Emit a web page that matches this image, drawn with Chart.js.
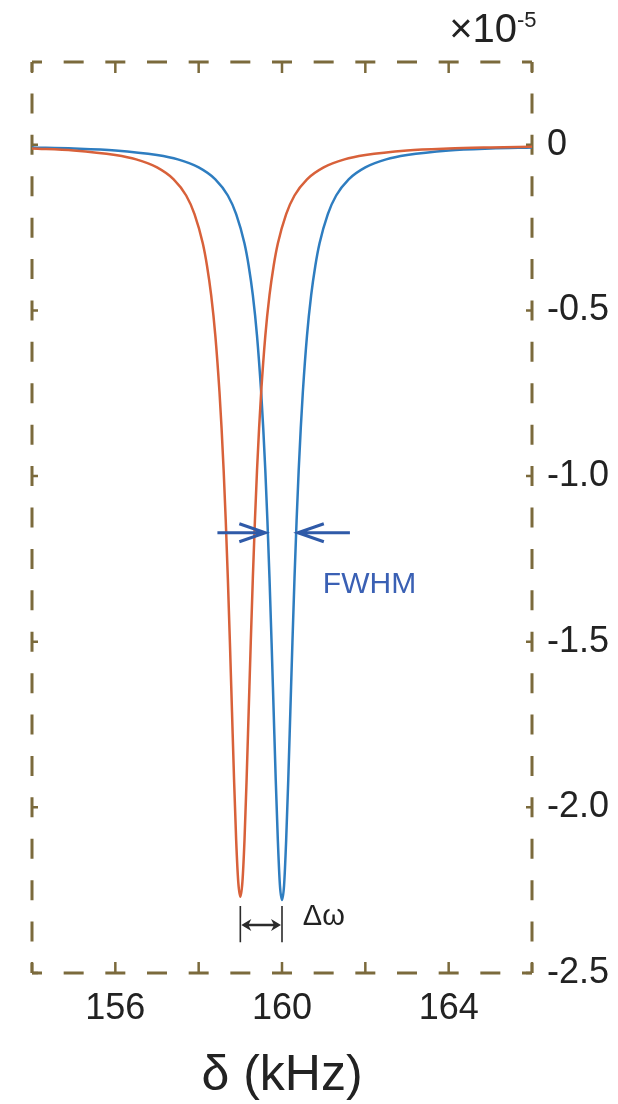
<!DOCTYPE html>
<html><head><meta charset="utf-8">
<script src="https://cdn.jsdelivr.net/npm/chart.js@4.4.1/dist/chart.umd.min.js"></script>
<style>html,body{margin:0;padding:0;background:#fff}canvas{display:block}</style>
</head><body>
<canvas id="c" width="618" height="1104"></canvas>
<script>
// ---- data ----
const redX = [154,155,156,156.5,157,157.4,157.7,157.9,158.1,158.2,158.3,158.4,158.5,158.55,158.6,158.65,158.7,158.75,158.8,158.85,158.9,158.95,159,159.05,159.1,159.15,159.2,159.25,159.3,159.35,159.4,159.45,159.5,159.6,159.7,159.8,159.9,160.1,160.3,160.6,161,161.5,162,163,164,165,166];
const redY = [-0.011,-0.017,-0.031,-0.044,-0.068,-0.104,-0.153,-0.209,-0.298,-0.365,-0.454,-0.576,-0.747,-0.856,-0.984,-1.135,-1.308,-1.503,-1.711,-1.918,-2.099,-2.225,-2.27,-2.225,-2.099,-1.918,-1.711,-1.503,-1.308,-1.135,-0.984,-0.856,-0.747,-0.576,-0.454,-0.365,-0.298,-0.209,-0.153,-0.104,-0.068,-0.044,-0.031,-0.017,-0.011,-0.008,-0.006];
const blueX = [154,155,156,157,157.5,158,158.4,158.7,158.9,159.1,159.2,159.3,159.4,159.5,159.55,159.6,159.65,159.7,159.75,159.8,159.85,159.9,159.95,160,160.05,160.1,160.15,160.2,160.25,160.3,160.35,160.4,160.45,160.5,160.6,160.7,160.8,160.9,161.1,161.3,161.6,162,162.5,163,164,165,166];
const blueY = [-0.008,-0.011,-0.017,-0.031,-0.044,-0.068,-0.104,-0.153,-0.209,-0.298,-0.365,-0.454,-0.576,-0.747,-0.856,-0.984,-1.135,-1.308,-1.503,-1.711,-1.918,-2.099,-2.235,-2.28,-2.235,-2.099,-1.918,-1.711,-1.503,-1.308,-1.135,-0.984,-0.856,-0.747,-0.576,-0.454,-0.365,-0.298,-0.209,-0.153,-0.104,-0.068,-0.044,-0.031,-0.017,-0.011,-0.008];
const xTicks = [154,156,158,160,162,164,166];
const xTickLabels = [156,160,164];
const yTicks = [0,-0.5,-1,-1.5,-2,-2.5];
const yTickLabels = ['0','-0.5','-1.0','-1.5','-2.0','-2.5'];
const xTitle = 'δ (kHz)';
const yExponent = ['×10', '-5'];
// annotation anchors in data units
const fwhmArrow = [-1.171, 158.45, 159.6, 160.38, 161.63]; // y, leftTail, leftTip, rightTip, rightTail
const fwhmLabel = ['FWHM', 160.98, -1.352];
const dOmega = [159.0, 160.0, -2.355, -2.298, -2.407]; // x1, x2, y, yTop, yBottom
const dOmegaLabel = ['Δω', 160.5, -2.355];

const FONT = "'Liberation Sans', Arial, Helvetica, sans-serif";
const FRAME = '#7b6a3c';

const framePlugin = {
  id: 'frame',
  beforeDatasetsDraw(chart) {
    const {ctx, chartArea: a, scales: {x, y}} = chart;
    ctx.save();
    ctx.strokeStyle = FRAME; ctx.lineWidth = 3; ctx.lineCap = 'butt';
    const px = Math.abs(x.getPixelForValue(155) - x.getPixelForValue(154));
    const py = Math.abs(y.getPixelForValue(0.125) - y.getPixelForValue(0));
    const dash = 20;
    function seg(x1, y1, x2, y2, per) {
      ctx.setLineDash([dash, per - dash]);
      ctx.lineDashOffset = dash / 2;
      ctx.beginPath(); ctx.moveTo(x1, y1); ctx.lineTo(x2, y2); ctx.stroke();
    }
    seg(a.left, a.top, a.right, a.top, px);
    seg(a.left, a.bottom, a.right, a.bottom, px);
    seg(a.left, a.bottom, a.left, a.top, py);
    seg(a.right, a.bottom, a.right, a.top, py);
    ctx.setLineDash([]);
    ctx.lineWidth = 2.5;
    ctx.beginPath();
    xTicks.forEach(v => {
      const p = x.getPixelForValue(v);
      ctx.moveTo(p, a.top); ctx.lineTo(p, a.top + 11);
      ctx.moveTo(p, a.bottom); ctx.lineTo(p, a.bottom - 11);
    });
    yTicks.forEach(v => {
      const p = y.getPixelForValue(v);
      ctx.moveTo(a.left, p); ctx.lineTo(a.left + 6, p);
      ctx.moveTo(a.right, p); ctx.lineTo(a.right - 6, p);
    });
    ctx.stroke();
    ctx.restore();
  }
};

function openArrow(ctx, x1, y1, x2, y2) {
  const dir = Math.sign(x2 - x1);
  ctx.beginPath();
  ctx.moveTo(x1, y1); ctx.lineTo(x2, y2);
  ctx.moveTo(x2 - dir * 26, y2 - 9); ctx.lineTo(x2, y2); ctx.lineTo(x2 - dir * 26, y2 + 9);
  ctx.stroke();
}

const annotPlugin = {
  id: 'annot',
  afterDatasetsDraw(chart) {
    const {ctx, chartArea: a, scales: {x, y}} = chart;
    ctx.save();
    ctx.strokeStyle = '#2f5aa8'; ctx.lineWidth = 3; ctx.lineJoin = 'miter'; ctx.lineCap = 'butt';
    const ay = y.getPixelForValue(fwhmArrow[0]);
    openArrow(ctx, x.getPixelForValue(fwhmArrow[1]), ay, x.getPixelForValue(fwhmArrow[2]), ay);
    openArrow(ctx, x.getPixelForValue(fwhmArrow[4]), ay, x.getPixelForValue(fwhmArrow[3]), ay);
    ctx.fillStyle = '#3a60b4';
    ctx.font = '30px ' + FONT; ctx.textAlign = 'left'; ctx.textBaseline = 'alphabetic';
    ctx.fillText(fwhmLabel[0], x.getPixelForValue(fwhmLabel[1]), y.getPixelForValue(fwhmLabel[2]));
    const x1 = x.getPixelForValue(dOmega[0]), x2 = x.getPixelForValue(dOmega[1]);
    const dy = y.getPixelForValue(dOmega[2]);
    ctx.strokeStyle = '#2b2b2b'; ctx.fillStyle = '#2b2b2b'; ctx.lineWidth = 1.6;
    ctx.beginPath();
    ctx.moveTo(x1, y.getPixelForValue(dOmega[3])); ctx.lineTo(x1, y.getPixelForValue(dOmega[4]));
    ctx.moveTo(x2, y.getPixelForValue(dOmega[3])); ctx.lineTo(x2, y.getPixelForValue(dOmega[4]));
    ctx.stroke();
    ctx.lineWidth = 2.5;
    ctx.beginPath(); ctx.moveTo(x1 + 4, dy); ctx.lineTo(x2 - 4, dy); ctx.stroke();
    ctx.beginPath();
    ctx.moveTo(x1 + 1, dy); ctx.lineTo(x1 + 11, dy - 6); ctx.lineTo(x1 + 8, dy); ctx.lineTo(x1 + 11, dy + 6); ctx.closePath();
    ctx.moveTo(x2 - 1, dy); ctx.lineTo(x2 - 11, dy - 6); ctx.lineTo(x2 - 8, dy); ctx.lineTo(x2 - 11, dy + 6); ctx.closePath();
    ctx.fill();
    ctx.fillStyle = '#222';
    ctx.font = '29px ' + FONT;
    ctx.fillText(dOmegaLabel[0], x.getPixelForValue(dOmegaLabel[1]), y.getPixelForValue(dOmegaLabel[2]));
    ctx.font = '40px ' + FONT; ctx.textAlign = 'right';
    ctx.fillText(yExponent[0], a.right - 15, a.top - 20);
    ctx.font = '22px ' + FONT; ctx.textAlign = 'left';
    ctx.fillText(yExponent[1], a.right - 15, a.top - 35);
    ctx.restore();
  }
};

new Chart(document.getElementById('c'), {
  type: 'line',
  data: {
    datasets: [
      {data: redX.map((v, i) => ({x: v, y: redY[i]})), borderColor: '#d8613a', borderWidth: 2.5, pointRadius: 0, cubicInterpolationMode: 'monotone', fill: false},
      {data: blueX.map((v, i) => ({x: v, y: blueY[i]})), borderColor: '#2e7dc0', borderWidth: 2.5, pointRadius: 0, cubicInterpolationMode: 'monotone', fill: false}
    ]
  },
  options: {
    responsive: false, animation: false,
    layout: {padding: {left: 32, top: 62, right: 0, bottom: 0}},
    plugins: {legend: {display: false}, tooltip: {enabled: false}},
    scales: {
      x: {
        type: 'linear', position: 'bottom', min: 154, max: 166,
        afterBuildTicks: s => { s.ticks = xTicks.map(v => ({value: v})); },
        afterFit: s => { s.height = 131; },
        grid: {display: false, drawTicks: false}, border: {display: false},
        ticks: {padding: 14, autoSkip: false, maxRotation: 0, color: '#222', font: {family: FONT, size: 36},
          callback: v => xTickLabels.includes(v) ? String(v) : ''},
        title: {display: true, text: xTitle, color: '#222', font: {family: FONT, size: 50}, padding: {top: 0, bottom: -2}}
      },
      y: {
        type: 'linear', position: 'right', min: -2.5, max: 0.25,
        afterBuildTicks: s => { s.ticks = yTicks.map(v => ({value: v})); },
        afterFit: s => { s.width = 86; },
        grid: {display: false, drawTicks: false}, border: {display: false},
        ticks: {padding: 15, autoSkip: false, color: '#222', font: {family: FONT, size: 36},
          callback: v => { const i = yTicks.indexOf(v); return i >= 0 ? yTickLabels[i] : ''; }}
      }
    }
  },
  plugins: [framePlugin, annotPlugin]
});
</script>
</body></html>
